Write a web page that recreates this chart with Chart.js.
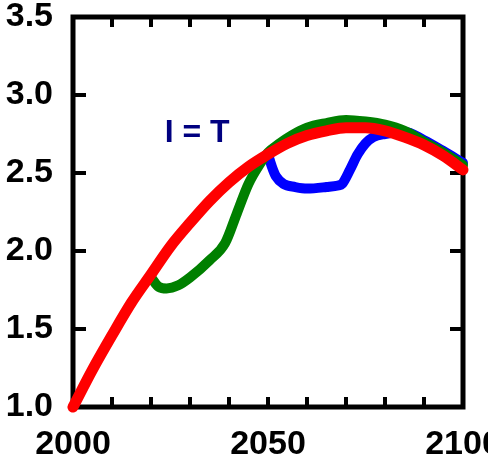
<!DOCTYPE html>
<html lang="en">
<head>
    <meta charset="UTF-8">
    <title>I = T</title>
    <script src="https://cdn.jsdelivr.net/npm/chart.js"></script>
    <style>
        html, body {
            margin: 0;
            padding: 0;
            overflow: hidden;
            background: #fff;
        }
    </style>
</head>
<body>
    <canvas id="chart" width="520" height="459"></canvas>

    <script>
        // values
        const redYears = [2000, 2005, 2010, 2015, 2020, 2025, 2030, 2035, 2040, 2045, 2050,
                          2055, 2060, 2065, 2070, 2075, 2080, 2085, 2090, 2095, 2100];
        const redValues = [1.00, 1.24, 1.46, 1.67, 1.85, 2.03, 2.18, 2.32, 2.44, 2.54, 2.62,
                           2.69, 2.74, 2.77, 2.79, 2.79, 2.77, 2.73, 2.68, 2.61, 2.52];

        const greenYears = [2020, 2022, 2024, 2027, 2030, 2035, 2039, 2042, 2045, 2048, 2050,
                            2053, 2056, 2060, 2065, 2070, 2075, 2080, 2085, 2090, 2095, 2100];
        const greenValues = [1.83, 1.77, 1.76, 1.78, 1.83, 1.94, 2.05, 2.24, 2.43, 2.56, 2.63,
                             2.69, 2.74, 2.79, 2.82, 2.84, 2.83, 2.81, 2.77, 2.70, 2.63, 2.55];

        const blueYears = [2050, 2051, 2052, 2054, 2057, 2060, 2065, 2068, 2069, 2071, 2073,
                           2075, 2077, 2080, 2085, 2090, 2095, 2100];
        const blueValues = [2.62, 2.54, 2.48, 2.43, 2.41, 2.40, 2.41, 2.42, 2.43, 2.52, 2.62,
                            2.69, 2.73, 2.75, 2.765, 2.71, 2.64, 2.565];

        const xLabelYears = [2000, 2050, 2100];
        const annotation = { text: 'I = T', year: 2023.5, value: 2.70 };

        const fontFamily = '"Liberation Sans", Arial, sans-serif';

        function toPoints(xs, ys) {
            return xs.map((x, i) => ({ x: x, y: ys[i] }));
        }

        // box frame with inward ticks, plus the label
        const framePlugin = {
            id: 'frame',
            beforeDatasetsDraw(chart) {
                const { ctx, chartArea: a, scales } = chart;
                ctx.save();
                ctx.strokeStyle = '#000';
                ctx.lineWidth = 4;
                ctx.beginPath();
                scales.x.ticks.forEach(t => {
                    const px = scales.x.getPixelForValue(t.value);
                    if (px <= a.left + 1 || px >= a.right - 1) return;
                    ctx.moveTo(px, a.bottom);
                    ctx.lineTo(px, a.bottom - 10);
                    ctx.moveTo(px, a.top);
                    ctx.lineTo(px, a.top + 10);
                });
                scales.y.ticks.forEach(t => {
                    const py = scales.y.getPixelForValue(t.value);
                    if (py <= a.top + 1 || py >= a.bottom - 1) return;
                    ctx.moveTo(a.left, py);
                    ctx.lineTo(a.left + 13, py);
                    ctx.moveTo(a.right, py);
                    ctx.lineTo(a.right - 13, py);
                });
                ctx.stroke();
                ctx.lineWidth = 5;
                ctx.strokeRect(a.left, a.top, a.width, a.height);

                ctx.fillStyle = '#000080';
                ctx.font = 'bold 32px ' + fontFamily;
                ctx.textAlign = 'left';
                ctx.textBaseline = 'alphabetic';
                ctx.fillText(annotation.text,
                    scales.x.getPixelForValue(annotation.year),
                    scales.y.getPixelForValue(annotation.value));
                ctx.restore();
            }
        };

        const tickFont = { family: fontFamily, size: 34, weight: 'bold', lineHeight: 1 };

        new Chart(document.getElementById('chart'), {
            type: 'line',
            data: {
                datasets: [
                    {
                        label: 'red',
                        data: toPoints(redYears, redValues),
                        borderColor: '#ff0000',
                        borderWidth: 11
                    },
                    {
                        label: 'green',
                        data: toPoints(greenYears, greenValues),
                        borderColor: '#008000',
                        borderWidth: 10
                    },
                    {
                        label: 'blue',
                        data: toPoints(blueYears, blueValues),
                        borderColor: '#0000ff',
                        borderWidth: 10
                    }
                ]
            },
            options: {
                responsive: false,
                animation: false,
                datasets: {
                    line: {
                        pointRadius: 0,
                        fill: false,
                        cubicInterpolationMode: 'monotone',
                        borderCapStyle: 'round',
                        borderJoinStyle: 'round',
                        clip: false
                    }
                },
                layout: {
                    padding: { top: 17, right: 57, left: 0, bottom: 0 }
                },
                plugins: {
                    legend: { display: false },
                    tooltip: { enabled: false }
                },
                scales: {
                    x: {
                        type: 'linear',
                        min: 2000,
                        max: 2100,
                        afterFit: s => {
                            s.height = 52;
                            s.paddingLeft = 0;
                            s.paddingRight = 0;
                        },
                        grid: { display: false, drawTicks: false },
                        border: { display: false },
                        ticks: {
                            stepSize: 10,
                            autoSkip: false,
                            maxRotation: 0,
                            padding: 21,
                            color: '#000',
                            font: tickFont,
                            callback: v => xLabelYears.includes(v) ? String(v) : ''
                        }
                    },
                    y: {
                        min: 1.0,
                        max: 3.5,
                        afterFit: s => {
                            s.width = 73;
                            s.paddingTop = 0;
                            s.paddingBottom = 0;
                        },
                        grid: { display: false, drawTicks: false },
                        border: { display: false },
                        ticks: {
                            stepSize: 0.5,
                            padding: 20,
                            color: '#000',
                            font: tickFont,
                            callback: v => v.toFixed(1)
                        }
                    }
                }
            },
            plugins: [framePlugin]
        });
    </script>
</body>
</html>
